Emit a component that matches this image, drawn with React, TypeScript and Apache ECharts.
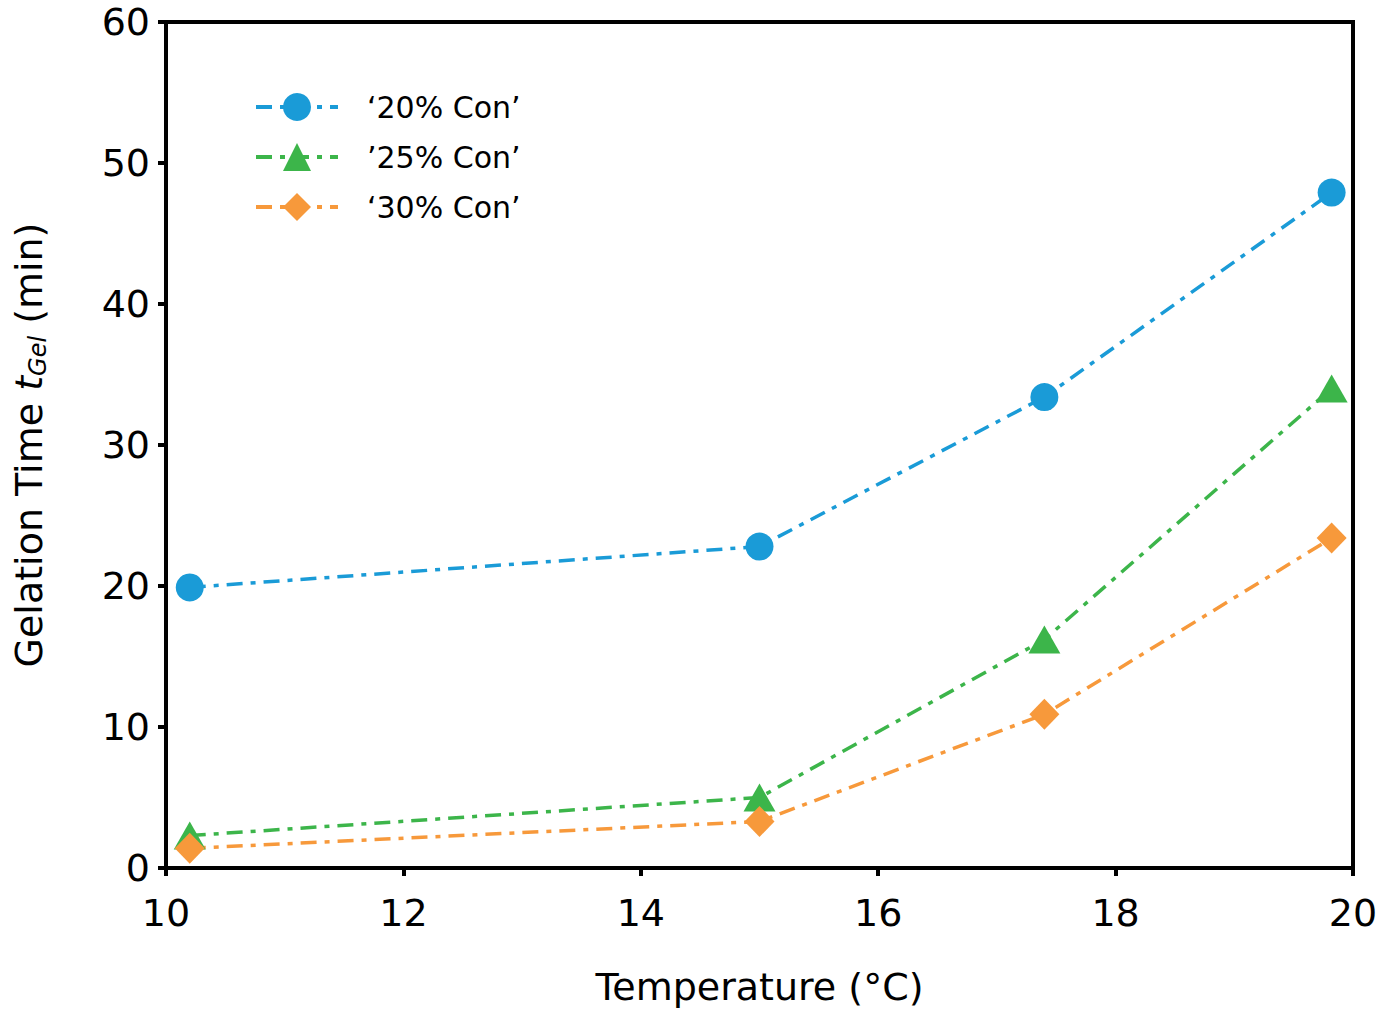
import { useEffect, useRef } from "react";
import * as echarts from "echarts";

// Temperature (°C) for each measurement
const TEMPS = [10.2, 15.0, 17.4, 19.82];
// Gelation time (min) per concentration
const CON_20 = [19.9, 22.8, 33.4, 47.9];
const CON_25 = [2.3, 5.0, 16.2, 34.0];
const CON_30 = [1.4, 3.3, 10.9, 23.4];

const NAMES = ["\u201820% Con\u2019", "\u201925% Con\u2019", "\u201830% Con\u2019"];
const COLORS = ["#1a9bd7", "#3cb54a", "#f7993b"];

const FONT = "DejaVu Sans";
const DASH = [16, 8, 5, 8];

export default function App() {
  const chartRef = useRef<HTMLDivElement>(null);

  useEffect(() => {
    if (!chartRef.current) return;
    const chart = echarts.init(chartRef.current, null, { renderer: "svg" });

    const mk = (name: string, values: number[], color: string, symbol: string, size: any) => ({
      name,
      type: "line",
      data: TEMPS.map((t, i) => [t, values[i]]),
      symbol,
      symbolSize: size,
      showAllSymbol: true,
      itemStyle: { color },
      lineStyle: { color, width: 3.5, type: DASH },
      z: 3,
    });

    chart.setOption({
      animation: false,
      textStyle: { fontFamily: FONT },
      grid: {
        left: 166,
        right: 24,
        top: 22,
        bottom: 146,
        show: true,
        borderColor: "#000",
        borderWidth: 4,
        outerBoundsMode: "none",
      },
      legend: {
        left: 249,
        top: 87,
        orient: "vertical",
        itemWidth: 82,
        itemHeight: 35,
        itemGap: 20,
        lineStyle: { width: 4 },
        textStyle: { fontFamily: FONT, fontSize: 30, color: "#000", padding: [0, 0, 0, 24] },
        data: NAMES,
      },
      xAxis: {
        type: "value",
        min: 10,
        max: 20,
        interval: 2,
        name: "Temperature (\u00b0C)",
        nameLocation: "middle",
        nameGap: 100,
        nameTextStyle: { fontFamily: FONT, fontSize: 38, color: "#000" },
        splitLine: { show: false },
        axisLine: { onZero: false, lineStyle: { color: "#000", width: 4 } },
        axisTick: { length: 8, lineStyle: { color: "#000", width: 4 } },
        axisLabel: { fontFamily: FONT, fontSize: 38, color: "#000", margin: 26 },
      },
      yAxis: {
        type: "value",
        min: 0,
        max: 60,
        interval: 10,
        name: "Gelation Time {i|t}{sub|Gel} (min)",
        nameLocation: "middle",
        nameGap: 116,
        nameTextStyle: {
          fontFamily: FONT,
          fontSize: 38,
          color: "#000",
          rich: {
            i: { fontFamily: FONT, fontSize: 38, fontStyle: "italic", color: "#000" },
            sub: {
              fontFamily: FONT,
              fontSize: 24,
              fontStyle: "italic",
              color: "#000",
              padding: [18, 0, 0, 0],
            },
          },
        },
        splitLine: { show: false },
        axisLine: { onZero: false, lineStyle: { color: "#000", width: 4 } },
        axisTick: { length: 8, lineStyle: { color: "#000", width: 4 } },
        axisLabel: { fontFamily: FONT, fontSize: 38, color: "#000", margin: 16 },
      },
      series: [
        mk(NAMES[0], CON_20, COLORS[0], "circle", 28),
        mk(NAMES[1], CON_25, COLORS[1], "triangle", [32, 28]),
        mk(NAMES[2], CON_30, COLORS[2], "diamond", [30, 31]),
      ],
    });

    return () => chart.dispose();
  }, []);

  return (
    <div
      ref={chartRef}
      style={{ position: "fixed", left: 0, top: 0, width: 1377, height: 1014, background: "#fff" }}
    />
  );
}
